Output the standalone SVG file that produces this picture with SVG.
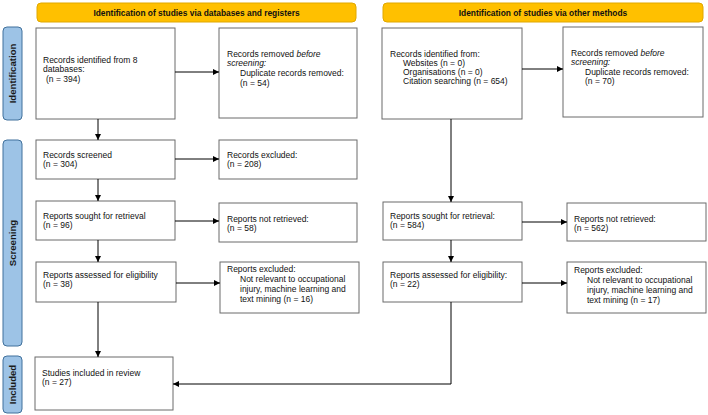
<svg xmlns="http://www.w3.org/2000/svg" width="708" height="415" viewBox="0 0 708 415">
<defs>
<marker id="ah" viewBox="0 0 10 10" refX="10" refY="5" markerWidth="7" markerHeight="6" markerUnits="userSpaceOnUse" orient="auto">
<path d="M0,0 L10,5 L0,10 z" fill="#000"/>
</marker>
<style>
.box{fill:#fff;stroke:#6b6b6b;stroke-width:1}
.hdr{fill:#FFC000;stroke:#E0A800;stroke-width:1}
.side{fill:#9DC3E6;stroke:#41719C;stroke-width:1}
.t{font-family:"Liberation Sans",Arial,sans-serif;font-size:8.5px;fill:#111}
.ht{font-family:"Liberation Sans",Arial,sans-serif;font-size:8.4px;font-weight:bold;fill:#111}
.st{font-family:"Liberation Sans",Arial,sans-serif;font-size:9.6px;font-weight:bold;fill:#1a1a1a}
.c{fill:none;stroke:#000;stroke-width:1}
</style>
</defs>
<rect width="708" height="415" fill="#fff"/>
<g id="header-db"><rect class="hdr" x="37" y="3" width="319" height="19" rx="4"/><text class="ht" x="196.5" y="15.5" text-anchor="middle">Identification of studies via databases and registers</text></g>
<g id="header-other"><rect class="hdr" x="383" y="3" width="320" height="19" rx="4"/><text class="ht" x="543" y="15.5" text-anchor="middle">Identification of studies via other methods</text></g>
<g id="side-identification"><rect class="side" x="3" y="27" width="19" height="93" rx="4"/><text class="st" transform="translate(16,73.5) rotate(-90)" text-anchor="middle">Identification</text></g>
<g id="side-screening"><rect class="side" x="3" y="140" width="19" height="206" rx="4"/><text class="st" transform="translate(16,243) rotate(-90)" text-anchor="middle">Screening</text></g>
<g id="side-included"><rect class="side" x="3" y="356" width="19" height="57" rx="4"/><text class="st" transform="translate(16,384.5) rotate(-90)" text-anchor="middle">Included</text></g>

<g id="db-identified"><rect class="box" x="36" y="28" width="139" height="91"/><text class="t" x="43" y="63">Records identified from 8</text><text class="t" x="43" y="72">databases:</text><text class="t" x="46" y="82">(n = 394)</text></g>
<g id="db-removed"><rect class="box" x="219" y="28" width="138" height="90"/><text class="t" x="227" y="57">Records removed <tspan font-style="italic">before</tspan></text><text class="t" x="227" y="66" font-style="italic">screening:</text><text class="t" x="240" y="76">Duplicate records removed:</text><text class="t" x="240" y="86">(n = 54)</text></g>
<g id="db-screened"><rect class="box" x="36" y="140" width="139" height="39"/><text class="t" x="43" y="158">Records screened</text><text class="t" x="43" y="167">(n = 304)</text></g>
<g id="db-excluded"><rect class="box" x="219" y="140" width="138" height="39"/><text class="t" x="227" y="158">Records excluded:</text><text class="t" x="227" y="167">(n = 208)</text></g>
<g id="db-sought"><rect class="box" x="36" y="201" width="139" height="39"/><text class="t" x="43" y="219">Reports sought for retrieval</text><text class="t" x="43" y="228">(n = 96)</text></g>
<g id="db-notretrieved"><rect class="box" x="219" y="203" width="138" height="39"/><text class="t" x="227" y="222">Reports not retrieved:</text><text class="t" x="227" y="231">(n = 58)</text></g>
<g id="db-assessed"><rect class="box" x="36" y="262" width="140" height="40"/><text class="t" x="43" y="278">Reports assessed for eligibility</text><text class="t" x="43" y="287">(n = 38)</text></g>
<g id="db-reportsexcluded"><rect class="box" x="220" y="262" width="139" height="51"/><text class="t" x="227" y="272">Reports excluded:</text><text class="t" x="240" y="282">Not relevant to occupational</text><text class="t" x="240" y="292">injury, machine learning and</text><text class="t" x="240" y="302">text mining (n = 16)</text></g>
<g id="included"><rect class="box" x="35" y="357" width="138" height="53"/><text class="t" x="42" y="376">Studies included in review</text><text class="t" x="42" y="385">(n = 27)</text></g>

<g id="ot-identified"><rect class="box" x="382" y="28" width="140" height="91"/><text class="t" x="390" y="57">Records identified from:</text><text class="t" x="403" y="66">Websites (n = 0)</text><text class="t" x="403" y="75">Organisations (n = 0)</text><text class="t" x="403" y="84">Citation searching (n = 654)</text></g>
<g id="ot-removed"><rect class="box" x="563" y="27" width="140" height="90"/><text class="t" x="571" y="56">Records removed <tspan font-style="italic">before</tspan></text><text class="t" x="571" y="65" font-style="italic">screening:</text><text class="t" x="585" y="75">Duplicate records removed:</text><text class="t" x="585" y="84">(n = 70)</text></g>
<g id="ot-sought"><rect class="box" x="383" y="202" width="139" height="38"/><text class="t" x="390" y="219">Reports sought for retrieval:</text><text class="t" x="390" y="228">(n = 584)</text></g>
<g id="ot-notretrieved"><rect class="box" x="567" y="203" width="139" height="38"/><text class="t" x="574" y="222">Reports not retrieved:</text><text class="t" x="574" y="231">(n = 562)</text></g>
<g id="ot-assessed"><rect class="box" x="383" y="262" width="139" height="40"/><text class="t" x="390" y="278">Reports assessed for eligibility:</text><text class="t" x="390" y="287">(n = 22)</text></g>
<g id="ot-reportsexcluded"><rect class="box" x="567" y="262" width="139" height="51"/><text class="t" x="574" y="273">Reports excluded:</text><text class="t" x="587" y="283">Not relevant to occupational</text><text class="t" x="587" y="293">injury, machine learning and</text><text class="t" x="587" y="303">text mining (n = 17)</text></g>

<g id="connectors">
<line class="c" x1="175" y1="72" x2="219" y2="72" marker-end="url(#ah)"/>
<line class="c" x1="98" y1="119" x2="98" y2="140" marker-end="url(#ah)"/>
<line class="c" x1="175" y1="159" x2="219" y2="159" marker-end="url(#ah)"/>
<line class="c" x1="98" y1="179" x2="98" y2="201" marker-end="url(#ah)"/>
<line class="c" x1="175" y1="221" x2="219" y2="221" marker-end="url(#ah)"/>
<line class="c" x1="98" y1="240" x2="98" y2="262" marker-end="url(#ah)"/>
<line class="c" x1="176" y1="283" x2="220" y2="283" marker-end="url(#ah)"/>
<line class="c" x1="98" y1="302" x2="98" y2="357" marker-end="url(#ah)"/>
<line class="c" x1="522" y1="69" x2="563" y2="69" marker-end="url(#ah)"/>
<line class="c" x1="451" y1="119" x2="451" y2="202" marker-end="url(#ah)"/>
<line class="c" x1="522" y1="222" x2="567" y2="222" marker-end="url(#ah)"/>
<line class="c" x1="451" y1="240" x2="451" y2="262" marker-end="url(#ah)"/>
<line class="c" x1="522" y1="283" x2="567" y2="283" marker-end="url(#ah)"/>
<polyline class="c" points="451,302 451,384 173,384" marker-end="url(#ah)"/>
</g>
</svg>
